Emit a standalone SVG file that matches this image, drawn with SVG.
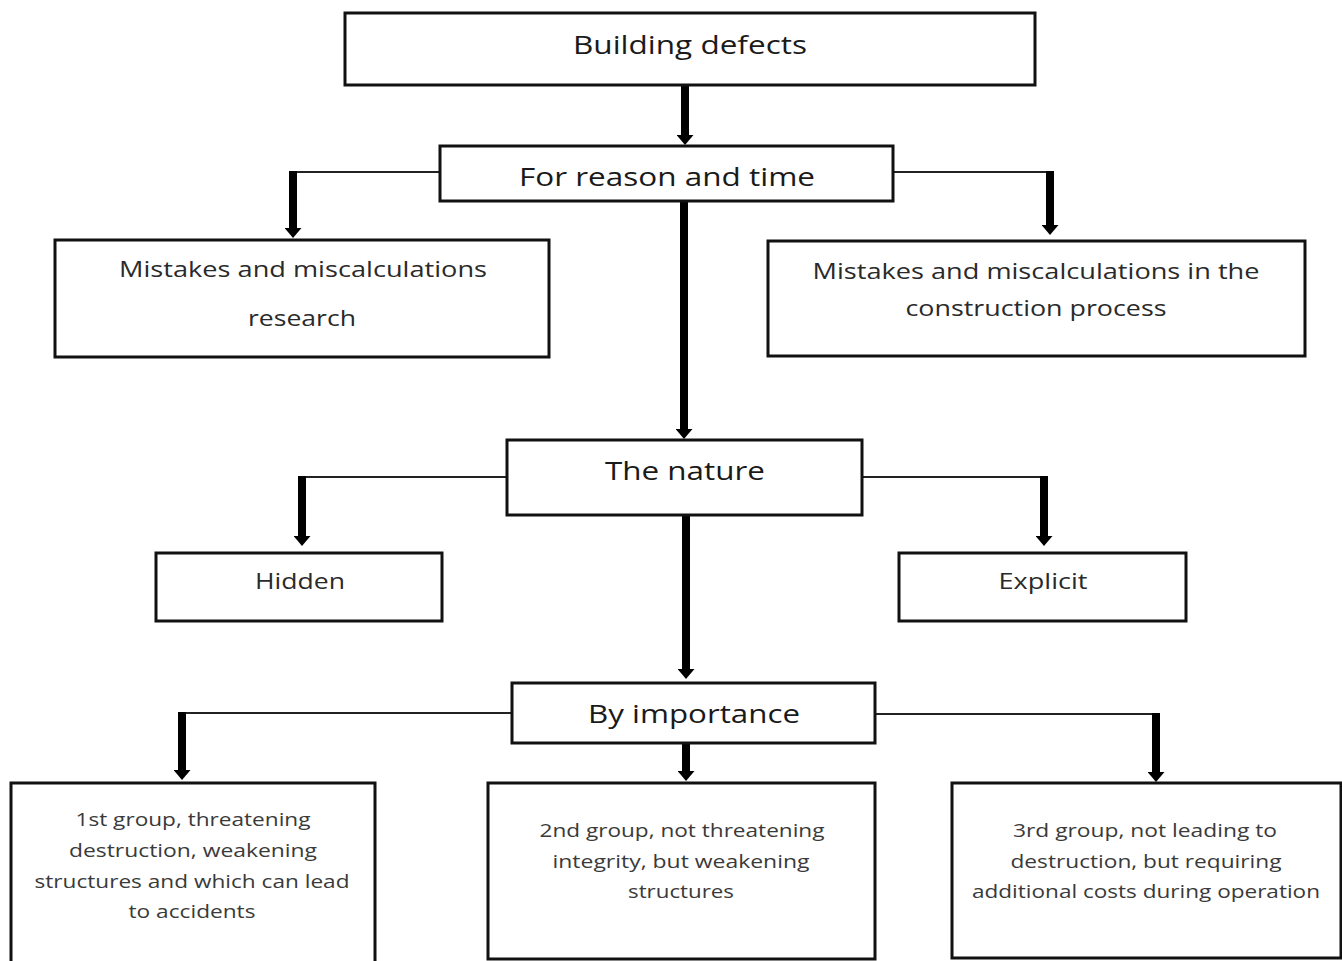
<svg xmlns="http://www.w3.org/2000/svg" width="1342" height="961" viewBox="0 0 1342 961">
<defs>
<style>
.box{fill:#fff;stroke:#111;stroke-width:3}
.thin{fill:none;stroke:#222;stroke-width:2}
.thick{fill:none;stroke:#000;stroke-width:8;marker-end:url(#ah)}
.h{font-family:"Open Sans","Liberation Sans",sans-serif;font-size:25px;fill:#1a1a1a;text-anchor:middle}
.m{font-family:"Open Sans","Liberation Sans",sans-serif;font-size:22px;fill:#2a2a2a;text-anchor:middle}
.s{font-family:"Open Sans","Liberation Sans",sans-serif;font-size:19px;fill:#3a3a3a;text-anchor:middle}
</style>
<marker id="ah" markerUnits="userSpaceOnUse" markerWidth="10" markerHeight="17" viewBox="0 0 10 17" refX="0" refY="8.5" orient="auto">
<polygon points="0,0 10,8.5 0,17" fill="#000"/>
</marker>
</defs>
<rect width="1342" height="961" fill="#fff"/>
<g id="connectors">
<line class="thick" x1="685" y1="86" x2="685" y2="135"/>
<polyline class="thin" points="440,172 289,172"/>
<line class="thick" x1="293" y1="171" x2="293" y2="228"/>
<polyline class="thin" points="893,172 1054,172"/>
<line class="thick" x1="1050" y1="171" x2="1050" y2="225"/>
<line class="thick" x1="684" y1="202" x2="684" y2="429"/>
<polyline class="thin" points="507,477 298,477"/>
<line class="thick" x1="302" y1="476" x2="302" y2="536"/>
<polyline class="thin" points="862,477 1048,477"/>
<line class="thick" x1="1044" y1="476" x2="1044" y2="536"/>
<line class="thick" x1="686" y1="516" x2="686" y2="669"/>
<polyline class="thin" points="512,713 178,713"/>
<line class="thick" x1="182" y1="712" x2="182" y2="770"/>
<line class="thick" x1="686" y1="744" x2="686" y2="771"/>
<polyline class="thin" points="875,714 1160,714"/>
<line class="thick" x1="1156" y1="713" x2="1156" y2="772"/>
</g>
<g id="building-defects">
<rect class="box" x="345" y="13" width="690" height="72"/>
<text class="h" x="690" y="54" textLength="234" lengthAdjust="spacingAndGlyphs">Building defects</text>
</g>
<g id="reason-time">
<rect class="box" x="440" y="146" width="453" height="55"/>
<text class="h" x="667" y="186" textLength="296" lengthAdjust="spacingAndGlyphs">For reason and time</text>
</g>
<g id="mistakes-research">
<rect class="box" x="55" y="240" width="494" height="117"/>
<text class="m" x="303" y="277" textLength="368" lengthAdjust="spacingAndGlyphs">Mistakes and miscalculations</text>
<text class="m" x="302" y="326" textLength="108" lengthAdjust="spacingAndGlyphs">research</text>
</g>
<g id="mistakes-construction">
<rect class="box" x="768" y="241" width="537" height="115"/>
<text class="m" x="1036" y="279" textLength="447" lengthAdjust="spacingAndGlyphs">Mistakes and miscalculations in the</text>
<text class="m" x="1036" y="316" textLength="261" lengthAdjust="spacingAndGlyphs">construction process</text>
</g>
<g id="nature">
<rect class="box" x="507" y="440" width="355" height="75"/>
<text class="h" x="685" y="480" textLength="160" lengthAdjust="spacingAndGlyphs">The nature</text>
</g>
<g id="hidden">
<rect class="box" x="156" y="553" width="286" height="68"/>
<text class="m" x="300" y="589" textLength="90" lengthAdjust="spacingAndGlyphs">Hidden</text>
</g>
<g id="explicit">
<rect class="box" x="899" y="553" width="287" height="68"/>
<text class="m" x="1043" y="589" textLength="89" lengthAdjust="spacingAndGlyphs">Explicit</text>
</g>
<g id="importance">
<rect class="box" x="512" y="683" width="363" height="60"/>
<text class="h" x="694" y="723" textLength="212" lengthAdjust="spacingAndGlyphs">By importance</text>
</g>
<g id="group1">
<rect class="box" x="11" y="783" width="364" height="182"/>
<text class="s" x="193" y="826" textLength="235" lengthAdjust="spacingAndGlyphs">1st group, threatening</text>
<text class="s" x="193" y="857" textLength="248" lengthAdjust="spacingAndGlyphs">destruction, weakening</text>
<text class="s" x="192" y="888" textLength="315" lengthAdjust="spacingAndGlyphs">structures and which can lead</text>
<text class="s" x="192" y="918" textLength="127" lengthAdjust="spacingAndGlyphs">to accidents</text>
</g>
<g id="group2">
<rect class="box" x="488" y="783" width="387" height="176"/>
<text class="s" x="682" y="837" textLength="285" lengthAdjust="spacingAndGlyphs">2nd group, not threatening</text>
<text class="s" x="681" y="868" textLength="257" lengthAdjust="spacingAndGlyphs">integrity, but weakening</text>
<text class="s" x="681" y="898" textLength="106" lengthAdjust="spacingAndGlyphs">structures</text>
</g>
<g id="group3">
<rect class="box" x="952" y="783" width="389" height="175"/>
<text class="s" x="1145" y="837" textLength="264" lengthAdjust="spacingAndGlyphs">3rd group, not leading to</text>
<text class="s" x="1146" y="868" textLength="271" lengthAdjust="spacingAndGlyphs">destruction, but requiring</text>
<text class="s" x="1146" y="898" textLength="348" lengthAdjust="spacingAndGlyphs">additional costs during operation</text>
</g>
</svg>
